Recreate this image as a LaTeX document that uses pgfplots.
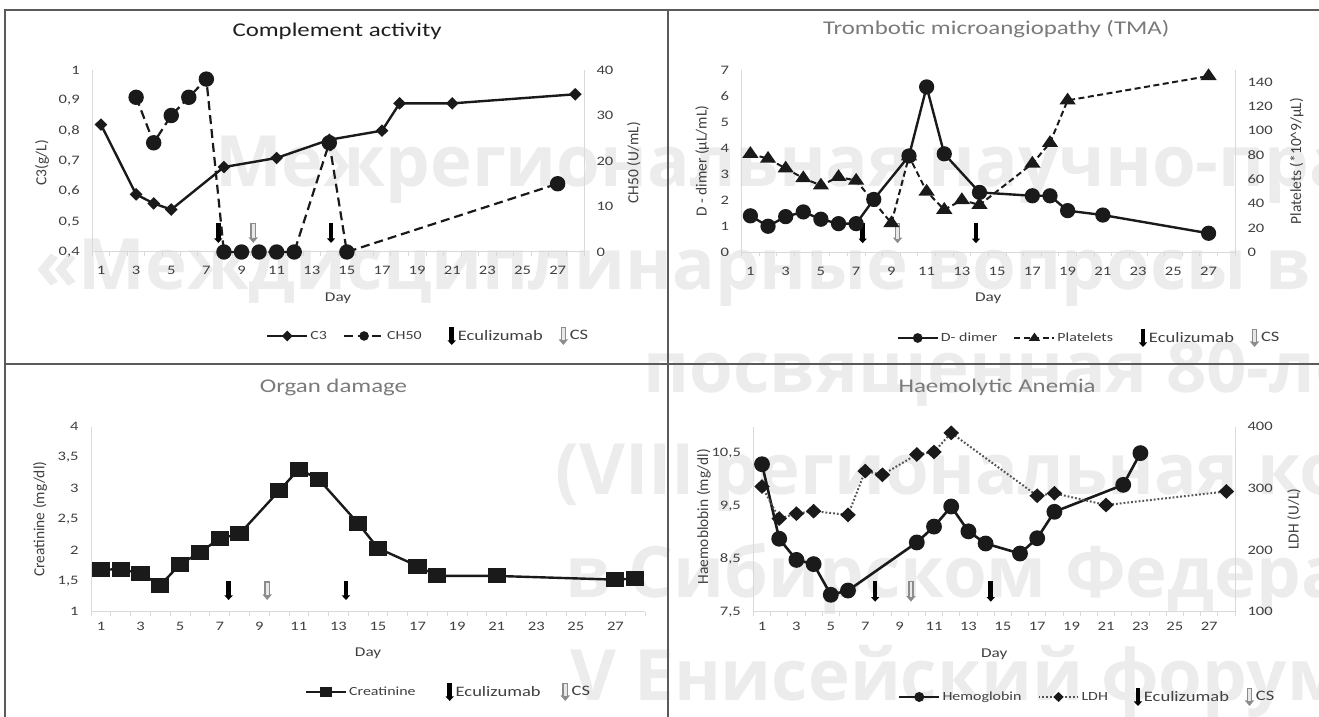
\documentclass[border=0pt]{standalone}
\usepackage{fontspec}
\setmainfont{Carlito}[FakeStretch=1.28]
\newfontfamily\plainfont{Carlito}
\newfontfamily\wmfont{Open Sans}
\usepackage{pgfplots}
\pgfplotsset{compat=1.18}
\usetikzlibrary{arrows.meta}

\definecolor{ink}{HTML}{1A1A1A}
\definecolor{ticktxt}{HTML}{404040}
\definecolor{axisgray}{HTML}{D9D9D9}
\definecolor{framegray}{HTML}{5A5A5A}
\definecolor{wmgray}{HTML}{ECECEC}
\definecolor{csgray}{HTML}{8C8C8C}
\definecolor{csfill}{HTML}{E8E8E8}
\definecolor{ldhgray}{HTML}{555555}

\pgfplotsset{
  panel/.style={
    scale only axis, clip=false,
    xmin=0.5, xmax=28.5,
    axis line style={draw=axisgray, line width=1bp, -},
    major tick length=0pt, minor tick length=4bp, tick align=outside,
    major tick style={draw=none},
    minor tick style={draw=axisgray, line width=0.8bp},
    tick label style={font=\fontsize{13}{15}\selectfont, text=ticktxt},
    /pgf/number format/use comma,
    /pgf/number format/fixed,
    /pgf/number format/precision=1,
    /pgf/number format/assume math mode=true,
    label style={font=\plainfont\fontsize{15.5}{17}\selectfont, text=ticktxt},
    xlabel style={font=\fontsize{13.5}{15}\selectfont, text=ticktxt},
    legend style={draw=none, fill=none, anchor=center, legend columns=-1,
      font=\fontsize{12.5}{14}\selectfont, text=black!75,
      /tikz/every even column/.append style={column sep=14bp}},
    legend cell align=left,
    legend image code/.code={\draw[mark repeat=2,mark phase=2] plot coordinates {(0bp,0bp) (20bp,0bp) (40bp,0bp)};},
    legend image post style={mark size=3.6bp},
  },
  leftpanel/.style={panel, axis x line*=bottom, axis y line*=left,
    xtick={1,3,...,27}, minor xtick={0.5,1.5,...,28.5},
    yticklabel style={xshift=-9bp}},
  rightpanel/.style={panel, axis x line=none, axis y line*=right,
    yticklabel style={xshift=9bp}},
  % series
  c3/.style={ink, line width=2.4bp, mark=diamond*, mark size=4.6bp, mark options={solid, fill=ink, xscale=1.35}},
  ch50/.style={ink, line width=2.2bp, dash pattern=on 9bp off 5bp, mark=*, mark size=6.6bp, mark options={solid, fill=ink}},
  ddim/.style={ink, line width=2.4bp, mark=*, mark size=6.4bp, mark options={fill=ink}},
  plt/.style={ink, line width=2bp, dash pattern=on 6bp off 3.5bp, mark=triangle*, mark size=6bp, mark options={solid, fill=ink, xscale=1.2}},
  crea/.style={ink, line width=2.4bp, mark=square*, mark size=6.3bp, mark options={fill=ink, xscale=1.25}},
  hgb/.style={ink, line width=2.6bp, mark=*, mark size=6.6bp, mark options={fill=ink}},
  ldh/.style={ldhgray, line width=2bp, dash pattern=on 1.8bp off 2bp, mark=diamond*, mark size=6bp, mark options={solid, draw=ink, fill=ink, xscale=1.4}},
  % treatment arrows
  ecu/.style={forget plot, draw=black, line width=4.6bp, mark=none, -{Triangle[width=8bp,length=4.5bp]}},
  csout/.style={forget plot, draw=csgray, line width=5.6bp, mark=none, -{Triangle[width=9bp,length=5.5bp]}},
  csin/.style={forget plot, draw=csfill, line width=2.8bp, mark=none, shorten >=4.5bp, shorten <=1.3bp},
  ecuimg/.style={legend image code/.code={\path[draw=none] (-10bp,0bp) -- (8bp,0bp);\draw[black, line width=4.6bp, -{Triangle[width=8bp,length=4.5bp]}] (4bp,9bp) -- (4bp,-9bp);}},
  csimg/.style={legend image code/.code={\draw[csgray, line width=5.6bp, -{Triangle[width=9bp,length=5.5bp]}] (4bp,9bp) -- (4bp,-9bp);\draw[csfill, line width=2.8bp] (4bp,7.7bp) -- (4bp,-4.5bp);}},
}

\begin{document}
\begin{tikzpicture}
\path[use as bounding box] (0bp,0bp) rectangle (1319bp,717bp);
\clip (0bp,0bp) rectangle (1319bp,717bp);

% conference watermark
\begin{scope}[every node/.style={anchor=base west, inner sep=0pt, text=wmgray,
    font=\wmfont\bfseries\fontsize{71}{75}\selectfont}]
  \node at (215bp,530bp) {Межрегиональная научно-практическая конференция};
  \node at (35bp,427bp) {«Междисциплинарные вопросы в медицине»};
  \node at (643bp,324bp) {посвященная 80-летию};
  \node at (555bp,222bp) {(VIII региональная конференция)};
  \node at (565bp,119bp) {в Сибирском Федеральном округе};
  \node at (570bp,17bp) {V Енисейский форум};
\end{scope}

% panel frames
\draw[framegray, line width=2bp] (5bp,0bp) -- (5bp,707bp) -- (1319bp,707bp);
\draw[framegray, line width=2bp] (668bp,0bp) -- (668bp,707bp);
\draw[framegray, line width=2bp] (5bp,352.7bp) -- (1319bp,352.7bp);

%--------------------------------------------------- Complement activity
\begin{axis}[leftpanel, at={(92.2bp,465bp)}, anchor=south west,
  width=491.8bp, height=182bp,
  ymin=0.4, ymax=1, ytick={0.4,0.5,0.6,0.7,0.8,0.9,1},
  xticklabel style={yshift=-11bp},
  ylabel={C3(g/L)}, ylabel style={at={(axis description cs:-0.102,0.49)}, anchor=center},
  xlabel={Day}, xlabel style={at={(axis description cs:0.5,-0.253)}, anchor=center},
  title={Complement activity},
  title style={at={(axis description cs:0.498,1.181)}, anchor=center,
    font=\fontsize{19.5}{22}\selectfont, text=black!88}]
\addplot[c3] coordinates {(1,0.82) (3,0.59) (4,0.56) (5,0.54) (8,0.68) (11,0.71)
  (14,0.77) (17,0.80) (18,0.89) (21,0.89) (28,0.92)};
\addplot[ecu] coordinates {(7.68,0.497) (7.68,0.43)};
\addplot[csout] coordinates {(9.67,0.497) (9.67,0.43)};
\addplot[csin] coordinates {(9.67,0.497) (9.67,0.43)};
\addplot[ecu] coordinates {(14.1,0.497) (14.1,0.43)};
\end{axis}
\begin{axis}[rightpanel, at={(92.2bp,465bp)}, anchor=south west,
  width=491.8bp, height=182bp,
  ymin=0, ymax=40, ytick={0,10,20,30,40},
  ylabel={CH50 (U/mL)}, ylabel style={at={(axis description cs:1.101,0.49)}, anchor=center},
  legend style={at={(0.683,-0.4615)}}]
\addlegendimage{c3}\addlegendentry{C3}
\addplot[ch50] coordinates {(3,34) (4,24) (5,30) (6,34) (7,38) (8,0) (9,0) (10,0)
  (11,0) (12,0) (14,24) (15,0) (27,15)};
\addlegendentry{CH50}
\addlegendimage{ecuimg}\addlegendentry{\fontsize{14.5}{16}\selectfont Eculizumab}
\addlegendimage{csimg}\addlegendentry{\fontsize{14.5}{16}\selectfont CS}
\end{axis}

%--------------------------------------------------- TMA
\begin{axis}[leftpanel, at={(741.6bp,464.7bp)}, anchor=south west,
  width=493.4bp, height=182.3bp,
  ymin=0, ymax=7, ytick={0,1,2,3,4,5,6,7},
  xticklabel style={yshift=-11bp},
  ylabel={D - dimer (µL/mL)}, ylabel style={at={(axis description cs:-0.080,0.5)}, anchor=center},
  xlabel={Day}, xlabel style={at={(axis description cs:0.5,-0.253)}, anchor=center},
  title={Trombotic microangiopathy (TMA)},
  title style={at={(axis description cs:0.516,1.192)}, anchor=center,
    font=\fontsize{19.5}{22}\selectfont, text=black!52}]
\addplot[ddim] coordinates {(1,1.4) (2,1.0) (3,1.37) (4,1.55) (5,1.27) (6,1.1) (7,1.1)
  (8,2.03) (10,3.7) (11,6.35) (12,3.78) (14,2.3) (17,2.17) (18,2.17) (19,1.6)
  (21,1.43) (27,0.73)};
\addplot[ecu] coordinates {(7.37,1.13) (7.37,0.35)};
\addplot[csout] coordinates {(9.35,1.13) (9.35,0.35)};
\addplot[csin] coordinates {(9.35,1.13) (9.35,0.35)};
\addplot[ecu] coordinates {(13.8,1.13) (13.8,0.35)};
\end{axis}
\begin{axis}[rightpanel, at={(741.6bp,464.7bp)}, anchor=south west,
  width=493.4bp, height=182.3bp,
  ymin=0, ymax=150, ytick={0,20,40,60,80,100,120,140},
  ylabel={Platelets (*10\textasciicircum 9/µL)}, ylabel style={at={(axis description cs:1.125,0.5)}, anchor=center},
  legend style={at={(0.704,-0.470)}}]
\addlegendimage{ddim}\addlegendentry{D- dimer}
\addplot[plt] coordinates {(1,81) (2,77) (3,69) (4,61) (5,55) (6,62) (7,59) (9,24)
  (10,79) (11,50) (12,35) (13,43) (14,39) (17,73) (18,90) (19,125) (27,145)};
\addlegendentry{Platelets}
\addlegendimage{ecuimg}\addlegendentry{\fontsize{14.5}{16}\selectfont Eculizumab}
\addlegendimage{csimg}\addlegendentry{\fontsize{14.5}{16}\selectfont CS}
\end{axis}

%--------------------------------------------------- Organ damage
\begin{axis}[leftpanel, at={(91.1bp,105.3bp)}, anchor=south west,
  width=554bp, height=185bp,
  ymin=1, ymax=4, ytick={1,1.5,2,2.5,3,3.5,4},
  xticklabel style={yshift=-7bp},
  ylabel={Creatinine (mg/dl)}, ylabel style={at={(axis description cs:-0.092,0.5)}, anchor=center},
  xlabel={Day}, xlabel style={at={(axis description cs:0.5,-0.222)}, anchor=center},
  title={Organ damage},
  title style={at={(axis description cs:0.4375,1.18)}, anchor=center,
    font=\fontsize{19.5}{22}\selectfont, text=black!52},
  legend style={at={(0.645,-0.434)}, /tikz/every even column/.append style={column sep=18bp}}]
\addplot[crea] coordinates {(1,1.68) (2,1.69) (3,1.62) (4,1.43) (5,1.77) (6,1.96)
  (7,2.19) (8,2.26) (10,2.96) (11,3.31) (12,3.15) (14,2.43) (15,2.03) (17,1.74)
  (18,1.58) (21,1.58) (27,1.52) (28,1.54)};
\addlegendentry{Creatinine}
\addplot[ecu] coordinates {(7.45,1.49) (7.45,1.19)};
\addplot[csout] coordinates {(9.40,1.49) (9.40,1.19)};
\addplot[csin] coordinates {(9.40,1.49) (9.40,1.19)};
\addplot[ecu] coordinates {(13.38,1.49) (13.38,1.19)};
\addlegendimage{ecuimg}\addlegendentry{\fontsize{14.5}{16}\selectfont Eculizumab}
\addlegendimage{csimg}\addlegendentry{\fontsize{14.5}{16}\selectfont CS}
\end{axis}

%--------------------------------------------------- Haemolytic anemia
\begin{axis}[leftpanel, at={(753.4bp,105.3bp)}, anchor=south west,
  width=481.6bp, height=185bp,
  ymin=7.5, ymax=11, ytick={7.5,8.5,9.5,10.5},
  xticklabel style={yshift=-7bp},
  ylabel={Haemoblobin (mg/dl)}, ylabel style={at={(axis description cs:-0.103,0.515)}, anchor=center},
  xlabel={Day}, xlabel style={at={(axis description cs:0.5,-0.232)}, anchor=center},
  title={Haemolytic Anemia},
  title style={at={(axis description cs:0.506,1.18)}, anchor=center,
    font=\fontsize{19.5}{22}\selectfont, text=black!52}]
\addplot[hgb] coordinates {(1,10.29) (2,8.88) (3,8.48) (4,8.40) (5,7.82) (6,7.90)
  (10,8.81) (11,9.11) (12,9.49) (13,9.02) (14,8.79) (16,8.60) (17,8.89) (18,9.39)
  (22,9.90) (23,10.50)};
\addplot[ecu] coordinates {(7.58,8.08) (7.58,7.69)};
\addplot[csout] coordinates {(9.66,8.08) (9.66,7.69)};
\addplot[csin] coordinates {(9.66,8.08) (9.66,7.69)};
\addplot[ecu] coordinates {(14.3,8.08) (14.3,7.69)};
\end{axis}
\begin{axis}[rightpanel, at={(753.4bp,105.3bp)}, anchor=south west,
  width=481.6bp, height=185bp,
  ymin=100, ymax=400, ytick={100,200,300,400},
  ylabel={LDH (U/L)}, ylabel style={at={(axis description cs:1.1225,0.5)}, anchor=center},
  legend style={at={(0.693,-0.461)}}]
\addlegendimage{hgb}\addlegendentry{Hemoglobin}
\addplot[ldh] coordinates {(1,303) (2,251) (3,259) (4,263) (6,257) (7,328) (8,322)
  (10,355) (11,359) (12,390) (17,288) (18,292) (21,273) (28,295)};
\addlegendentry{LDH}
\addlegendimage{ecuimg}\addlegendentry{\fontsize{14.5}{16}\selectfont Eculizumab}
\addlegendimage{csimg}\addlegendentry{\fontsize{14.5}{16}\selectfont CS}
\end{axis}
\end{tikzpicture}
\end{document}
